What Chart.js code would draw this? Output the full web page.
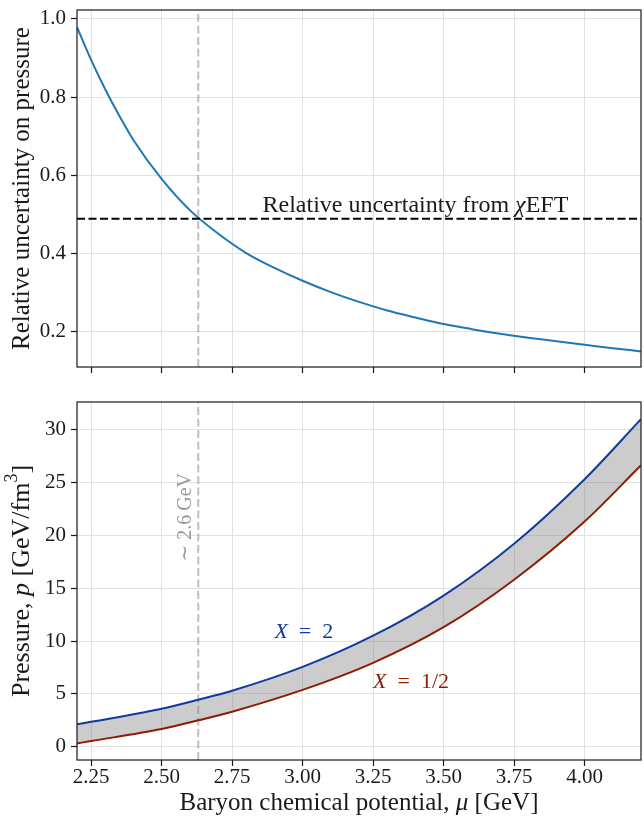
<!DOCTYPE html>
<html>
<head>
<meta charset="utf-8">
<script src="https://cdn.jsdelivr.net/npm/chart.js@4/dist/chart.umd.min.js"></script>
<style>
  html, body { margin: 0; padding: 0; background: #ffffff; }
  #wrap { position: relative; width: 644px; height: 819px; overflow: hidden; }
  canvas { position: absolute; left: 0; }
  #top { top: 0; }
  #bottom { top: 390px; }
</style>
</head>
<body>
<div id="wrap">
  <canvas id="top" width="644" height="390"></canvas>
  <canvas id="bottom" width="644" height="429"></canvas>
</div>
<script>
// ---- data -------------------------------------------------------------
const X_MIN = 2.2, X_MAX = 4.2;
const X_TICKS = [2.25, 2.5, 2.75, 3.0, 3.25, 3.5, 3.75, 4.0];

// upper panel: relative pQCD uncertainty on the pressure
const MU_TOP = [2.2, 2.25, 2.3, 2.35, 2.4, 2.5, 2.6, 2.7, 2.8, 2.9, 3.0, 3.1, 3.2,
                3.3, 3.4, 3.5, 3.6, 3.7, 3.8, 3.9, 4.0, 4.1, 4.2];
const REL_UNCERTAINTY = [0.979, 0.895, 0.82, 0.752, 0.69, 0.59, 0.51, 0.45, 0.40, 0.362,
                         0.329, 0.30, 0.275, 0.253, 0.235, 0.218, 0.205, 0.193, 0.183,
                         0.174, 0.165, 0.156, 0.148];
const CHI_EFT_LEVEL = 0.488;           // relative uncertainty of chiral EFT
const MU_CROSS = 2.63;                 // where the two uncertainties meet
const Y_TICKS_TOP = [0.2, 0.4, 0.6, 0.8, 1.0];
const Y_TOP_MIN = 0.108, Y_TOP_MAX = 1.023;

// lower panel: pQCD pressure band for renormalisation scale X = 1/2 ... 2
const MU_P = [2.2, 2.25, 2.5, 2.63, 2.75, 3.0, 3.25, 3.5, 3.75, 4.0, 4.2];
const P_X2 = [2.13, 2.36, 3.6, 4.45, 5.3, 7.55, 10.5, 14.3, 19.2, 25.3, 30.98];
const P_XHALF = [0.32, 0.54, 1.68, 2.5, 3.32, 5.38, 7.94, 11.31, 15.8, 21.3, 26.62];
const Y_TICKS_BOTTOM = [0, 5, 10, 15, 20, 25, 30];
const Y_BOT_MIN = -1.25, Y_BOT_MAX = 32.6;

// ---- styling ----------------------------------------------------------
const SERIF = '"Liberation Serif", "DejaVu Serif", serif';
const INK = '#1a1a1a';
const GRID = '#e2e2e2';
const C_TOP = '#1f77b4';
const C_X2 = '#0f3c9c';
const C_XHALF = '#8c1d04';
const C_GUIDE = 'rgba(128,128,128,0.5)';
const TICK_FONT = { family: SERIF, size: 21 };
const LABEL_SIZE = 25;

const pts = (xs, ys) => xs.map((x, i) => ({ x, y: ys[i] }));

function drawRuns(ctx, runs, x, y, o) {
  const size = o.size;
  ctx.save();
  ctx.translate(x, y);
  if (o.rotate) ctx.rotate(o.rotate);
  const fontOf = r => (r.italic ? 'italic ' : '') + (r.sup ? Math.round(size * 0.7) : size) + 'px ' + SERIF;
  let total = 0;
  runs.forEach(r => { ctx.font = fontOf(r); r.w = ctx.measureText(r.t).width; total += r.w; });
  let cx = o.align === 'center' ? -total / 2 : (o.align === 'right' ? -total : 0);
  ctx.fillStyle = o.color || INK;
  ctx.textBaseline = o.baseline || 'alphabetic';
  runs.forEach(r => {
    ctx.font = fontOf(r);
    ctx.fillText(r.t, cx, r.sup ? -size * 0.38 : 0);
    cx += r.w;
  });
  ctx.restore();
}

// axes frame on all four sides plus text items
function decorations(items) {
  return {
    id: 'decorations',
    afterDatasetsDraw(chart) {
      const { ctx, chartArea: a, scales } = chart;
      ctx.save();
      ctx.strokeStyle = '#222222';
      ctx.lineWidth = 1.25;
      ctx.strokeRect(a.left, a.top, a.right - a.left, a.bottom - a.top);
      ctx.restore();
      items.forEach(it => {
        let x, y;
        if (it.data) { x = scales.x.getPixelForValue(it.data[0]); y = scales.y.getPixelForValue(it.data[1]); }
        else { x = it.px(a)[0]; y = it.px(a)[1]; }
        drawRuns(ctx, it.runs, x, y, it);
      });
    }
  };
}

function xAxis(showLabels, height) {
  return {
    type: 'linear', min: X_MIN, max: X_MAX,
    afterBuildTicks: s => { s.ticks = X_TICKS.map(v => ({ value: v })); },
    grid: { color: GRID, lineWidth: 1, tickColor: INK, tickLength: 6, tickWidth: 1.2 },
    border: { display: false },
    ticks: {
      display: showLabels, color: INK, font: TICK_FONT, padding: -1,
      maxRotation: 0, autoSkip: false, callback: v => Number(v).toFixed(2)
    },
    afterFit: s => { s.height = height; s.paddingLeft = 0; s.paddingRight = 0; }
  };
}

function yAxis(min, max, ticks, digits) {
  return {
    type: 'linear', min, max,
    afterBuildTicks: s => { s.ticks = ticks.map(v => ({ value: v })); },
    grid: { color: GRID, lineWidth: 1, tickColor: INK, tickLength: 6, tickWidth: 1.2 },
    border: { display: false },
    ticks: { color: INK, font: TICK_FONT, padding: 5, autoSkip: false,
             callback: v => Number(v).toFixed(digits) },
    afterFit: s => { s.width = 77; s.paddingTop = 0; s.paddingBottom = 0; }
  };
}

const common = {
  responsive: false,
  animation: false,
  events: [],
  plugins: { legend: { display: false }, tooltip: { enabled: false } },
  elements: { point: { radius: 0 } }
};

// ---- upper panel ------------------------------------------------------
new Chart(document.getElementById('top'), {
  type: 'line',
  data: {
    datasets: [
      { data: [{ x: X_MIN, y: CHI_EFT_LEVEL }, { x: X_MAX, y: CHI_EFT_LEVEL }],
        borderColor: '#000000', borderWidth: 2.2, borderDash: [8, 3.5], order: 0 },
      { data: pts(MU_TOP, REL_UNCERTAINTY), borderColor: C_TOP, borderWidth: 2,
        cubicInterpolationMode: 'monotone', order: 1 },
      { data: [{ x: MU_CROSS, y: Y_TOP_MIN }, { x: MU_CROSS, y: Y_TOP_MAX }],
        borderColor: C_GUIDE, borderWidth: 2, borderDash: [8, 3.5], order: 2 }
    ]
  },
  options: Object.assign({}, common, {
    layout: { padding: { top: 10, right: 3, bottom: 0, left: 0 } },
    scales: { x: xAxis(false, 23), y: yAxis(Y_TOP_MIN, Y_TOP_MAX, Y_TICKS_TOP, 1) }
  }),
  plugins: [decorations([
    { data: [3.4, 0.505], align: 'center', size: 24,
      runs: [{ t: 'Relative uncertainty from ' }, { t: 'χ', italic: true }, { t: 'EFT' }] },
    { px: a => [22, (a.top + a.bottom) / 2], align: 'center', baseline: 'middle',
      rotate: -Math.PI / 2, size: LABEL_SIZE,
      runs: [{ t: 'Relative uncertainty on pressure' }] }
  ])]
});

// ---- lower panel ------------------------------------------------------
new Chart(document.getElementById('bottom'), {
  type: 'line',
  data: {
    datasets: [
      { data: pts(MU_P, P_X2), borderColor: C_X2, borderWidth: 2,
        cubicInterpolationMode: 'monotone', order: 1 },
      { data: pts(MU_P, P_XHALF), borderColor: C_XHALF, borderWidth: 2,
        cubicInterpolationMode: 'monotone', fill: 0,
        backgroundColor: 'rgba(128,128,128,0.4)', order: 2 },
      { data: [{ x: MU_CROSS, y: Y_BOT_MIN }, { x: MU_CROSS, y: Y_BOT_MAX }],
        borderColor: C_GUIDE, borderWidth: 2, borderDash: [8, 3.5], order: 3 }
    ]
  },
  options: Object.assign({}, common, {
    layout: { padding: { top: 12, right: 3, bottom: 0, left: 0 } },
    scales: { x: xAxis(true, 59), y: yAxis(Y_BOT_MIN, Y_BOT_MAX, Y_TICKS_BOTTOM, 0) }
  }),
  plugins: [decorations([
    { data: [2.9, 10.3], align: 'left', size: 22, color: C_X2,
      runs: [{ t: 'X', italic: true }, { t: '\u2002=\u20022' }] },
    { data: [3.25, 5.6], align: 'left', size: 22, color: C_XHALF,
      runs: [{ t: 'X', italic: true }, { t: '\u2002=\u20021/2' }] },
    { data: [2.585, 21.7], align: 'center', baseline: 'middle', rotate: -Math.PI / 2,
      size: 20, color: '#999999',
      runs: [{ t: '∼ 2.6\u2009GeV' }] },
    { px: a => [22, (a.top + a.bottom) / 2], align: 'center', baseline: 'middle',
      rotate: -Math.PI / 2, size: 26,
      runs: [{ t: 'Pressure, ' }, { t: 'p', italic: true }, { t: ' [GeV/fm' }, { t: '3', sup: true }, { t: ']' }] },
    { px: a => [(a.left + a.right) / 2, 413], align: 'center', baseline: 'middle',
      size: LABEL_SIZE,
      runs: [{ t: 'Baryon chemical potential, ' }, { t: 'μ', italic: true }, { t: ' [GeV]' }] }
  ])]
});
</script>
</body>
</html>
